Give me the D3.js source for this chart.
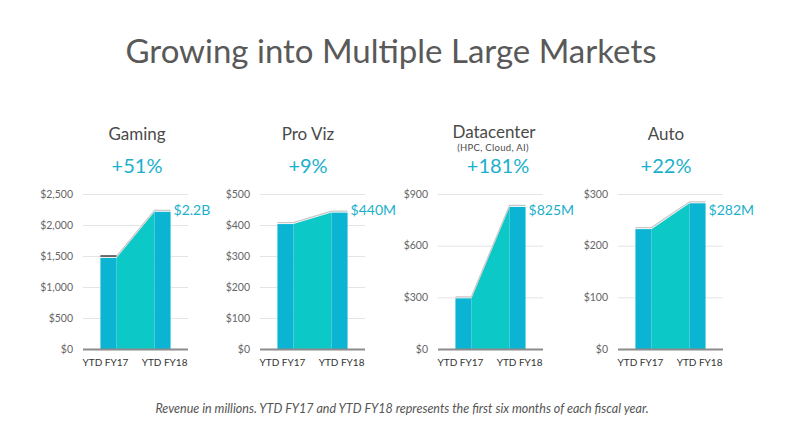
<html lang="en">
<head>
<style>
body { margin: 0; background: #fff; }
svg { font-family: Lato, "Open Sans", sans-serif; }
</style>
</head>
<body>
</body>
<script type='text/javascript' src='https://d3js.org/d3.v7.min.js'></script>
<script>
var width = 800, height = 440;

// data (revenue in millions)
const markets = ['Gaming', 'Pro Viz', 'Datacenter', 'Auto'];
const subtitles = ['', '', '(HPC, Cloud, AI)', ''];
const growth = ['+51%', '+9%', '+181%', '+22%'];
const periods = ['YTD FY17', 'YTD FY18'];
const ytdFY17 = [1468, 403, 294, 232];
const ytdFY18 = [2213, 440, 825, 282];
const valueLabels = ['$2.2B', '$440M', '$825M', '$282M'];
const yMax = [2500, 500, 900, 300];
const yTicks = [
  [0, 500, 1000, 1500, 2000, 2500],
  [0, 100, 200, 300, 400, 500],
  [0, 300, 600, 900],
  [0, 100, 200, 300]
];

// layout
var plotLeft = [83, 260, 438, 618];
var titleX = [137, 308, 494, 666];
var plotW = 105, yBase = 349, yTop = 194, barW = 16;
var barColor = '#0ab4d2', areaColor = '#0cc8c6', accent = '#1ab0cb';

var svg = d3.select('body').append('svg').attr('width', width).attr('height', height);

svg.append('text')
  .attr('x', 391).attr('y', 63)
  .attr('text-anchor', 'middle')
  .attr('font-size', 33)
  .attr('fill', '#595959')
  .text('Growing into Multiple Large Markets');

markets.forEach(function(name, i) {
  var g = svg.append('g');
  var x = d3.scalePoint().domain(periods).range([plotLeft[i], plotLeft[i] + plotW]).padding(0.47);
  var y = d3.scaleLinear().domain([0, yMax[i]]).range([yBase, yTop]);
  var vals = [ytdFY17[i], ytdFY18[i]];

  // gridlines
  g.selectAll('line.grid').data(yTicks[i].slice(1)).join('line')
    .attr('x1', plotLeft[i]).attr('x2', plotLeft[i] + plotW)
    .attr('y1', function(d) { return y(d) + 0.5; })
    .attr('y2', function(d) { return y(d) + 0.5; })
    .attr('stroke', '#e4e4e4').attr('stroke-width', 1);

  // tick labels
  g.selectAll('text.tick').data(yTicks[i]).join('text')
    .attr('x', plotLeft[i] - 10)
    .attr('y', function(d) { return y(d); })
    .attr('dy', '0.35em')
    .attr('text-anchor', 'end')
    .attr('font-size', 10.5)
    .attr('fill', '#666')
    .text(function(d) { return '$' + d3.format(',')(d); });

  var x1 = x(periods[0]), x2 = x(periods[1]);
  var y1 = y(vals[0]), y2 = y(vals[1]);

  // connecting area
  var area = d3.area().x(function(d) { return d[0]; }).y0(yBase).y1(function(d) { return d[1]; });
  g.append('path')
    .attr('d', area([[x1 + barW / 2, y1], [x2 - barW / 2, y2]]))
    .attr('fill', areaColor);

  // bars
  g.selectAll('rect').data(vals).join('rect')
    .attr('x', function(d, j) { return x(periods[j]) - barW / 2; })
    .attr('y', function(d) { return y(d); })
    .attr('width', barW)
    .attr('height', function(d) { return yBase - y(d); })
    .attr('fill', barColor);

  // top outline
  var line = d3.line();
  g.append('path')
    .attr('d', line([[x1 - barW / 2, y1], [x1 + barW / 2, y1], [x2 - barW / 2, y2], [x2 + barW / 2, y2]]))
    .attr('transform', 'translate(0,-1.5)')
    .attr('fill', 'none')
    .attr('stroke', '#c8c8c8')
    .attr('stroke-width', 1.3);
  if (i === 0) {
    g.append('line')
      .attr('x1', x1 - barW / 2).attr('x2', x1 + barW / 2)
      .attr('y1', y1 - 2).attr('y2', y1 - 2)
      .attr('stroke', '#222').attr('stroke-width', 1.2);
  }

  // baseline
  g.append('line')
    .attr('x1', plotLeft[i]).attr('x2', plotLeft[i] + plotW)
    .attr('y1', yBase + 0.5).attr('y2', yBase + 0.5)
    .attr('stroke', '#8c8c8c').attr('stroke-width', 2);

  // category labels
  g.selectAll('text.cat').data(periods).join('text')
    .attr('x', function(d, j) { return x(d) + (j === 0 ? -3 : 2); })
    .attr('y', 366)
    .attr('text-anchor', 'middle')
    .attr('font-size', 10)
    .attr('fill', '#333')
    .text(function(d) { return d; });

  // value label
  g.append('text')
    .attr('x', x2 + barW / 2 + 3).attr('y', 215)
    .attr('font-size', 14)
    .attr('fill', accent)
    .text(valueLabels[i]);

  // titles
  g.append('text')
    .attr('x', titleX[i]).attr('y', subtitles[i] ? 138 : 140)
    .attr('text-anchor', 'middle')
    .attr('font-size', 17)
    .attr('fill', '#4a4a4a')
    .text(name);
  if (subtitles[i]) {
    g.append('text')
      .attr('x', titleX[i] - 1).attr('y', 151)
      .attr('text-anchor', 'middle')
      .attr('font-size', 9.5)
      .attr('letter-spacing', 0.3)
      .attr('fill', '#4a4a4a')
      .text(subtitles[i]);
  }
  g.append('text')
    .attr('x', titleX[i] + (i === 2 ? 4 : 0)).attr('y', 173)
    .attr('text-anchor', 'middle')
    .attr('font-size', 20)
    .attr('fill', accent)
    .text(growth[i]);
});

svg.append('text')
  .attr('x', 402).attr('y', 413)
  .attr('text-anchor', 'middle')
  .attr('font-size', 12.5)
  .attr('font-style', 'italic')
  .attr('fill', '#555')
  .text('Revenue in millions. YTD FY17 and YTD FY18 represents the first six months of each fiscal year.');
</script>
</html>
